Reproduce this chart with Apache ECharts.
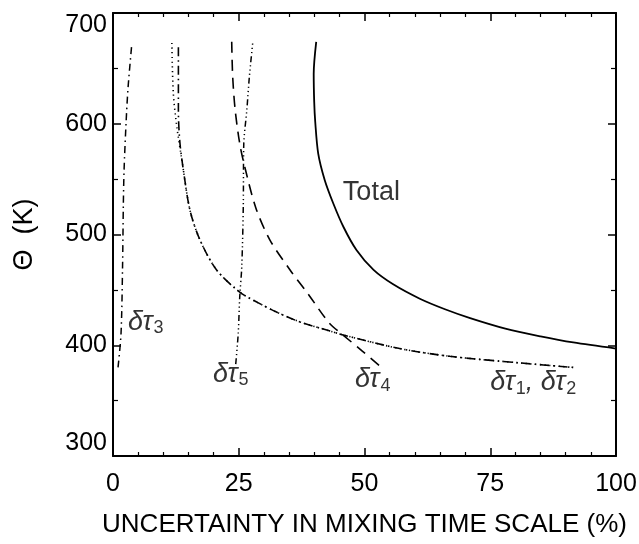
<!DOCTYPE html>
<html><head><meta charset="utf-8">
<script src="https://cdn.jsdelivr.net/npm/echarts@6/dist/echarts.min.js"></script>
<style>html,body{margin:0;padding:0;background:#fff}#c{width:639px;height:544px}</style>
</head><body><div id="c"></div>
<script>
// ---- data (x = uncertainty %, y = theta K) ----
const totalX = [40.4, 39.9, 40.0, 40.2, 40.8, 42.1, 43.8, 45.8, 48.4, 51.8, 55.7, 61.0, 66.0, 71.0, 78.0, 85.0, 91.5, 100];
const totalY = [674, 645, 620, 602, 573, 549, 528, 507, 486, 468, 455, 442, 432.5, 424.5, 415, 408, 402.5, 397];

const tau1X = [11.7, 12.0, 12.7, 13.7, 15.3, 17.3, 20.6, 25.2, 28.8, 32.5, 37.2, 43.0, 46.0, 57.0, 67.0, 81.0, 91.5];
const tau1Y = [673, 627, 597, 567, 522, 495, 468, 448, 438.5, 430, 421, 413, 409, 397, 390, 384, 380];

const tau2X = [13.0, 13.0, 13.3, 14.0, 15.3, 17.3, 20.6, 25.2, 28.8, 32.5, 37.2, 43.0, 46.0, 57.0, 67.0, 81.0, 91.5];
const tau2Y = [669, 612, 583, 558, 522, 495, 468, 448, 438.5, 430, 421, 413, 409, 397, 390, 384, 380];

const tau3X = [1.0, 1.6, 1.9, 2.05, 2.2, 2.6, 3.0, 3.7];
const tau3Y = [380, 411, 471, 525, 558, 601, 633, 670];

const tau4X = [23.6, 23.8, 24.3, 25.2, 26.2, 28.4, 31.2, 35.2, 39.0, 43.0, 45.8, 49.5, 53.1];
const tau4Y = [674, 642, 612, 582, 561, 524, 495, 468, 445, 420, 409, 395, 381];

const tau5X = [24.4, 24.9, 25.2, 25.6, 25.9, 26.0, 26.6, 27.1, 27.8];
const tau5Y = [383, 411, 444, 471, 525, 582, 612, 642, 674];

const xTicks = [0, 25, 50, 75, 100];
const yTicks = [300, 400, 500, 600, 700];

// text labels
const labelText = ['{t|Total}', '{a|δτ}{s|3}', '{a|δτ}{s|5}', '{a|δτ}{s|4}', '{a|δτ}{s|1}{a|, δτ}{s|2}'];
const labelX = [45.7, 3.0, 19.9, 48.1, 75.0];
const labelY = [538, 421, 374, 369, 366];

const zip = (xs, ys) => xs.map((x, i) => [x, ys[i]]);

const FONT = '"Liberation Sans", Arial, sans-serif';
const BLACK = '#000';

function lineSeries(name, xs, ys, type, width) {
  return {
    name, type: 'line', data: zip(xs, ys), showSymbol: false, symbol: 'none',
    smooth: 0.3, clip: true,
    lineStyle: { color: BLACK, width: width || 1.6, type: type },
    z: 3
  };
}

const chart = echarts.init(document.getElementById('c'), null, { renderer: 'canvas' });

const axisCommon = {
  type: 'value',
  splitLine: { show: false },
  axisLine: { show: true, onZero: false, lineStyle: { color: BLACK, width: 2 } },
};

chart.setOption({
  animation: false,
  backgroundColor: '#fff',
  grid: { left: 113, right: 23, top: 13, bottom: 88, containLabel: false, outerBoundsMode: 'none' },
  xAxis: [
    Object.assign({}, axisCommon, {
      min: xTicks[0], max: xTicks[xTicks.length - 1], interval: 25, position: 'bottom',
      axisTick: { show: true, inside: true, length: 8, lineStyle: { color: BLACK, width: 1.5 } },
      minorTick: { show: true, splitNumber: 5, length: 4, lineStyle: { color: BLACK, width: 1.2 } },
      axisLabel: { color: BLACK, fontFamily: FONT, fontSize: 25, margin: 16 },
      name: 'UNCERTAINTY IN MIXING TIME SCALE (%)', nameLocation: 'middle', nameGap: 56,
      nameTextStyle: { color: BLACK, fontFamily: FONT, fontSize: 26 }
    }),
    Object.assign({}, axisCommon, {
      min: xTicks[0], max: xTicks[xTicks.length - 1], interval: 25, position: 'top',
      axisTick: { show: true, inside: true, length: 8, lineStyle: { color: BLACK, width: 1.5 } },
      minorTick: { show: true, splitNumber: 5, length: 4, lineStyle: { color: BLACK, width: 1.2 } },
      axisLabel: { show: false }
    })
  ],
  yAxis: [
    Object.assign({}, axisCommon, {
      min: yTicks[0], max: yTicks[yTicks.length - 1], interval: 100, position: 'left',
      axisTick: { show: true, inside: true, length: 8, lineStyle: { color: BLACK, width: 1.5 } },
      minorTick: { show: true, splitNumber: 2, length: 5, lineStyle: { color: BLACK, width: 1.2 } },
      axisLabel: { color: BLACK, fontFamily: FONT, fontSize: 25, margin: 6,
                   verticalAlignMinLabel: 'bottom', verticalAlignMaxLabel: 'top' },
      name: 'Θ  (K)', nameLocation: 'middle', nameGap: 75, nameRotate: 90,
      nameTextStyle: { color: BLACK, fontFamily: FONT, fontSize: 27 }
    }),
    Object.assign({}, axisCommon, {
      min: yTicks[0], max: yTicks[yTicks.length - 1], interval: 100, position: 'right',
      axisTick: { show: true, inside: true, length: 8, lineStyle: { color: BLACK, width: 1.5 } },
      minorTick: { show: true, splitNumber: 2, length: 5, lineStyle: { color: BLACK, width: 1.2 } },
      axisLabel: { show: false }
    })
  ],
  series: [
    lineSeries('Total', totalX, totalY, 'solid', 1.8),
    lineSeries('δτ1', tau1X, tau1Y, [1.2, 3.5], 1.6),
    lineSeries('δτ2', tau2X, tau2Y, [9, 4, 1.5, 4], 1.6),
    lineSeries('δτ3', tau3X, tau3Y, [7, 4, 1.5, 4], 1.5),
    lineSeries('δτ4', tau4X, tau4Y, [11, 7], 1.6),
    lineSeries('δτ5', tau5X, tau5Y, [6, 3, 1.2, 3, 1.2, 3, 1.2, 3], 1.5),
    {
      name: 'labels', type: 'scatter', symbolSize: 0, silent: true, z: 5,
      data: labelX.map((x, i) => ({ value: [x, labelY[i]], text: labelText[i] })),
      label: {
        show: true, position: 'right', distance: 0, color: BLACK,
        fontFamily: FONT, fontSize: 24,
        formatter: p => p.data.text,
        rich: {
          t: { fontFamily: FONT, fontSize: 27, color: BLACK, lineHeight: 30 },
          a: { fontFamily: FONT, fontSize: 27, fontStyle: 'italic', color: BLACK, lineHeight: 30 },
          s: { fontFamily: FONT, fontSize: 18, color: BLACK, verticalAlign: 'bottom', lineHeight: 30, padding: [12, 0, 0, 1] }
        }
      }
    }
  ]
});
</script></body></html>
